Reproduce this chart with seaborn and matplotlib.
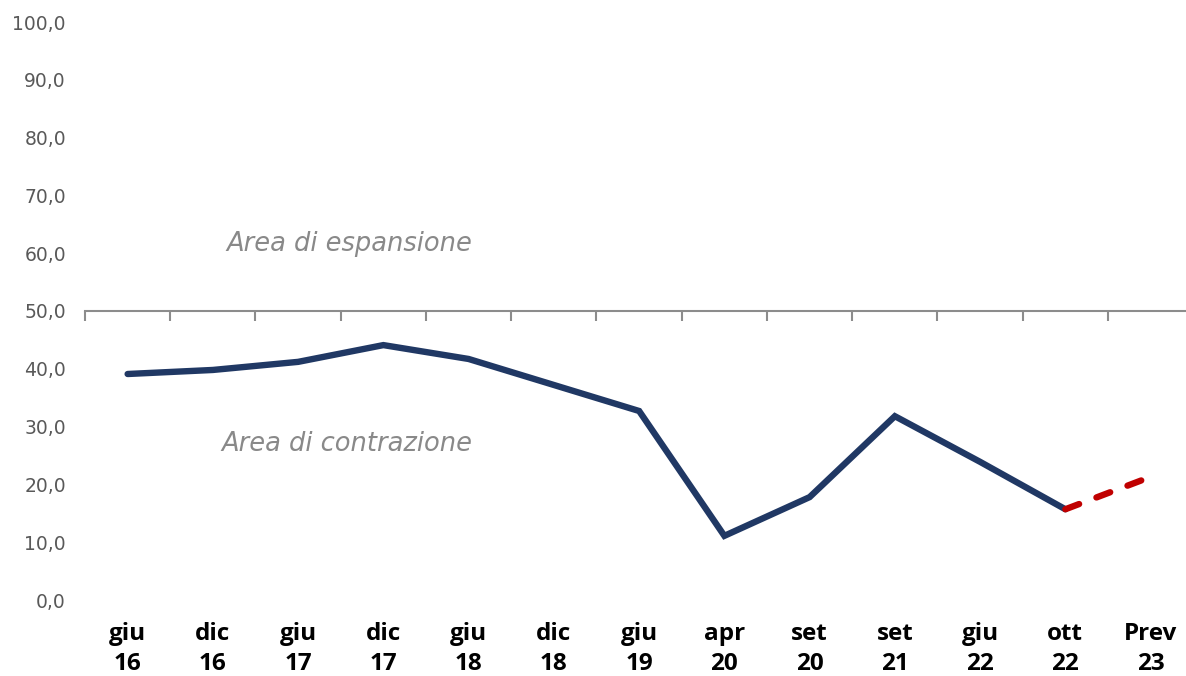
import matplotlib
matplotlib.use("Agg")
import matplotlib.pyplot as plt
import seaborn as sns
import pandas as pd
import numpy as np
from matplotlib.ticker import FixedLocator, FuncFormatter

categories = ["giu\n16", "dic\n16", "giu\n17", "dic\n17", "giu\n18", "dic\n18", "giu\n19",
              "apr\n20", "set\n20", "set\n21", "giu\n22", "ott\n22", "Prev\n23"]
actual_values = [39.1, 39.8, 41.2, 44.1, 41.7, 37.2, 32.7, 11.1, 17.8, 31.8, 23.9, 15.7]
forecast_values = [15.7, 21.3]
y_ticks = [0, 10, 20, 30, 40, 50, 60, 70, 80, 90, 100]
threshold = 50

sns.set_theme(style="white")
plt.rcParams["font.family"] = ["DejaVu Sans"]

fig = plt.figure(figsize=(11.86, 6.76), dpi=100)
ax = fig.add_axes([85 / 1186, 76 / 676, 1 - 85 / 1186, (600 - 22) / 676])

df_act = pd.DataFrame({"x": np.arange(len(actual_values)), "y": actual_values})
df_fc = pd.DataFrame({"x": np.arange(len(actual_values) - 1, len(categories)), "y": forecast_values})

sns.lineplot(data=df_act, x="x", y="y", ax=ax, color="#203864", linewidth=4.6,
             sort=False, solid_capstyle="round", solid_joinstyle="miter")
sns.lineplot(data=df_fc, x="x", y="y", ax=ax, color="#C00000", linewidth=4.6,
             sort=False, dashes=False)
ax.lines[-1].set_dashes((2.3, 2.9))
ax.lines[-1].set_dash_capstyle("round")

ax.set_xlim(-0.5, 12.415)
ax.set_ylim(0, 100)

# Y axis
ax.set_yticks(y_ticks)
ax.yaxis.set_major_formatter(FuncFormatter(lambda v, p: f"{v:.1f}".replace(".", ",")))
ax.tick_params(axis="y", length=0, pad=13.7, labelsize=13.5, labelcolor="#595959")

# Spines: bottom spine at threshold with minor ticks between categories
for s in ["left", "right", "top"]:
    ax.spines[s].set_visible(False)
ax.spines["bottom"].set_position(("data", threshold))
ax.spines["bottom"].set_color("#8C8C8C")
ax.spines["bottom"].set_linewidth(1.5)
ax.xaxis.set_major_locator(FixedLocator([]))
ax.xaxis.set_minor_locator(FixedLocator(np.arange(-0.5, 12, 1.0)))
ax.tick_params(axis="x", which="minor", bottom=True, length=7, width=1.5, color="#8C8C8C", direction="out")
ax.set_xlabel("")
ax.set_ylabel("")

# Category labels on a secondary axis at the bottom
sec = ax.secondary_xaxis(0.0)
sec.set_xticks(range(len(categories)))
sec.set_xticklabels(categories, fontsize=17.5, fontweight="bold", color="black",
                    linespacing=1.3, family=["Open Sans", "DejaVu Sans"])
sec.tick_params(axis="x", length=0, pad=16)
sec.spines["bottom"].set_visible(False)

ax.text(4.04, 61.6, "Area di espansione", ha="right", va="center", style="italic",
        fontsize=18.5, color="#898989")
ax.text(4.04, 27.0, "Area di contrazione", ha="right", va="center", style="italic",
        fontsize=18.5, color="#898989")

fig.savefig("out.png", dpi=100)
